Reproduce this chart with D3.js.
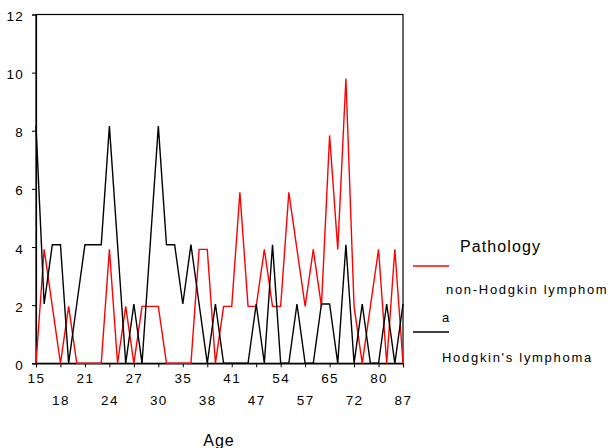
<!DOCTYPE html>
<html>
<head>
<meta charset="utf-8">
<script src="https://cdn.jsdelivr.net/npm/d3@7"></script>
<style>
  html, body { margin: 0; padding: 0; background: #fff; }
  svg { display: block; font-family: Arial, "Liberation Sans", sans-serif; }
</style>
</head>
<body>
<svg id="chart" width="609" height="448"></svg>
<script>
// Age categories (hidden intermediate ages estimated)
const ages = [15,16,17,18,19,20,21,22,23,24,25,26,27,28,29,30,
              31,33,35,36,37,38,39,40,41,43,45,47,49,51,54,55,56,57,
              60,62,65,68,70,72,75,78,80,82,85,87];
// Tick labels shown on the axis
const tickAges = [15,18,21,24,27,30,35,38,41,47,54,57,65,72,80,87];
// Percent of cases per age
const nonHodgkin = [0,3.92,1.96,0,1.96,0,0,0,0,3.92,0,1.96,0,1.96,1.96,1.96,
                    0,0,0,0,3.92,3.92,0,1.96,1.96,5.88,1.96,1.96,3.92,1.96,1.96,5.88,
                    3.92,1.96,3.92,1.96,7.84,3.92,9.8,1.96,0,1.96,3.92,0,3.92,0];
const hodgkin = [8.16,2.04,4.08,4.08,0,2.04,4.08,4.08,4.08,8.16,4.08,0,2.04,0,4.08,8.16,
                 4.08,4.08,2.04,4.08,2.04,0,2.04,0,0,0,0,2.04,0,4.08,0,0,
                 2.04,0,0,2.04,2.04,0,4.08,0,2.04,0,0,2.04,0,2.04];
const yTicks = [0,2,4,6,8,10,12];
const seriesNames = ["non-Hodgkin lymphoma", "Hodgkin's lymphoma"];
const seriesColors = ["#ff0000", "#000000"];

(function () {
const svg = d3.select("#chart");
const pLeft = 36, pRight = 403, pTop = 14.5, pBottom = 363.3;

const x = d3.scalePoint().domain(ages).range([pLeft, pRight]);
const y = d3.scaleLinear().domain([0, 12]).range([pBottom, pTop]);

// Frame
svg.append("rect").attr("x", pLeft).attr("y", pTop)
  .attr("width", pRight - pLeft).attr("height", pBottom - pTop)
  .attr("fill", "none").attr("stroke", "#000").attr("stroke-width", 1.2);

// Y axis
const yAxis = svg.append("g").attr("transform", `translate(${pLeft},0)`)
  .call(d3.axisLeft(y).tickValues(yTicks).tickSize(4).tickPadding(8).tickFormat(d3.format("d")));
yAxis.select(".domain").attr("stroke-width", 1.2);
yAxis.selectAll("text").attr("font-size", 13.5).attr("fill", "#000")
  .style("letter-spacing", "1.2px").attr("dy", "0.45em");

// X axis
const xAxis = svg.append("g").attr("transform", `translate(0,${pBottom})`)
  .call(d3.axisBottom(x).tickValues(tickAges).tickSize(4).tickPadding(0));
xAxis.select(".domain").attr("stroke-width", 1.2);
xAxis.selectAll("text").attr("font-size", 13.5).attr("fill", "#000")
  .style("letter-spacing", "1.4px")
  .attr("dy", null)
  .attr("y", (d, i) => i % 2 === 0 ? 20 : 42);

// Lines
const line = d3.line().x((d, i) => x(ages[i])).y(d => y(d));
[nonHodgkin, hodgkin].forEach((s, k) => {
  svg.append("path").datum(s).attr("d", line)
    .attr("fill", "none").attr("stroke", seriesColors[k])
    .attr("stroke-width", 1.4).attr("stroke-linejoin", "miter");
});

// Axis title
svg.append("text").attr("x", 219).attr("y", 446).attr("text-anchor", "middle")
  .attr("font-size", 16).style("letter-spacing", "1px").text("Age");

// Legend
const lg = svg.append("g");
lg.append("text").attr("x", 460).attr("y", 252).attr("font-size", 16)
  .style("letter-spacing", "1.1px").text("Pathology");
lg.append("line").attr("x1", 413).attr("x2", 449).attr("y1", 266).attr("y2", 266)
  .attr("stroke", seriesColors[0]).attr("stroke-width", 1.3);
lg.append("text").attr("x", 446).attr("y", 294).attr("font-size", 13)
  .style("letter-spacing", "1.7px").text(seriesNames[0].slice(0, 19));
lg.append("text").attr("x", 442).attr("y", 322).attr("font-size", 13)
  .text(seriesNames[0].slice(19));
lg.append("line").attr("x1", 413).attr("x2", 449).attr("y1", 332).attr("y2", 332)
  .attr("stroke", seriesColors[1]).attr("stroke-width", 1.3);
lg.append("text").attr("x", 442).attr("y", 362).attr("font-size", 13)
  .style("letter-spacing", "1.7px").text(seriesNames[1]);
})();
</script>
</body>
</html>
